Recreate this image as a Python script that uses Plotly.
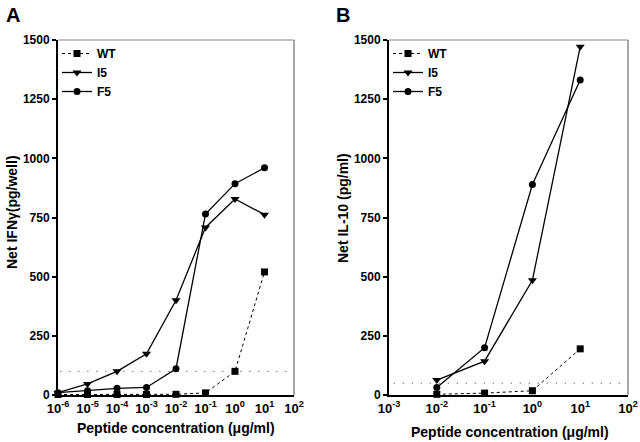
import plotly.graph_objects as go

# ---- data ----
conc_A = [1e-6, 1e-5, 1e-4, 1e-3, 1e-2, 1e-1, 1e0, 1e1]
wt_A = [2, 2, 2, 2, 3, 9, 100, 520]
i5_A = [10, 47, 100, 174, 400, 708, 828, 762]
f5_A = [10, 18, 28, 32, 111, 765, 893, 960]
thr_A = 100

conc_B = [1e-2, 1e-1, 1e0, 1e1]
wt_B = [3, 8, 18, 195]
i5_B = [63, 143, 485, 1472]
f5_B = [32, 200, 889, 1331]
thr_B = 50

ticks_A = [-6, -5, -4, -3, -2, -1, 0, 1, 2]
ticks_B = [-3, -2, -1, 0, 1, 2]
yticks = [0, 250, 500, 750, 1000, 1250, 1500]

FONT = "Liberation Sans"
W, H = 640, 442

fig = go.Figure()

def add_panel(xa, ya, conc, wt, i5, f5, legend):
    fig.add_trace(go.Scatter(x=conc, y=wt, name="WT", mode="lines+markers",
                             line=dict(color="black", width=1, dash="dot"),
                             marker=dict(symbol="square", size=7, color="black"),
                             xaxis=xa, yaxis=ya, legend=legend, cliponaxis=False))
    fig.add_trace(go.Scatter(x=conc, y=i5, name="I5", mode="lines+markers",
                             line=dict(color="black", width=1.3),
                             marker=dict(symbol="triangle-down", size=8, color="black"),
                             xaxis=xa, yaxis=ya, legend=legend, cliponaxis=False))
    fig.add_trace(go.Scatter(x=conc, y=f5, name="F5", mode="lines+markers",
                             line=dict(color="black", width=1.3),
                             marker=dict(symbol="circle", size=7, color="black"),
                             xaxis=xa, yaxis=ya, legend=legend, cliponaxis=False))

add_panel("x", "y", conc_A, wt_A, i5_A, f5_A, "legend")
add_panel("x2", "y2", conc_B, wt_B, i5_B, f5_B, "legend2")

def px_x(p):
    return p / W

def px_y(p):
    return 1 - p / H

xdomA = [px_x(58), px_x(294)]
xdomB = [px_x(389), px_x(628)]
ydom = [px_y(395), px_y(40)]

def xaxis(dom, tv, anchor):
    return dict(type="log", domain=dom, range=[tv[0], tv[-1]],
                tickvals=[10 ** t for t in tv],
                ticktext=["10<sup>%d</sup>" % t for t in tv],
                ticks="", showgrid=False, zeroline=False, automargin=False,
                showline=True, linecolor="black", linewidth=2,
                tickfont=dict(family=FONT, size=13, color="black", weight="bold"),
                anchor=anchor)

def yaxis(anchor):
    return dict(domain=ydom, range=[0, 1500], tickvals=yticks,
                ticks="outside", ticklen=4, tickwidth=1.5, tickcolor="black",
                showgrid=False, zeroline=False, showline=True, automargin=False,
                linecolor="black", linewidth=2,
                tickfont=dict(family=FONT, size=12, color="black", weight="bold"),
                anchor=anchor)

legend_common = dict(font=dict(family=FONT, size=12, color="black", weight="bold"),
                     bgcolor="rgba(0,0,0,0)", borderwidth=0,
                     xanchor="left", yanchor="top", tracegroupgap=0,
                     itemwidth=30)

fig.update_layout(
    template="none",
    width=W, height=H,
    margin=dict(l=0, r=0, t=0, b=0, autoexpand=False),
    paper_bgcolor="white", plot_bgcolor="white",
    font=dict(family=FONT, color="black"),
    xaxis=xaxis(xdomA, ticks_A, "y"),
    yaxis=yaxis("x"),
    xaxis2=xaxis(xdomB, ticks_B, "y2"),
    yaxis2=yaxis("x2"),
    legend=dict(x=px_x(57), y=px_y(39), **legend_common),
    legend2=dict(x=px_x(388), y=px_y(39), **legend_common),
    showlegend=True,
)

# threshold dotted lines
dots = dict(color="#333", width=1, dash="1px,8px")
fig.add_shape(type="line", xref="x domain", yref="y", x0=0.01, x1=1, y0=thr_A, y1=thr_A,
              line=dots)
fig.add_shape(type="line", xref="x2 domain", yref="y2", x0=0.02, x1=1, y0=thr_B, y1=thr_B,
              line=dots)
# grey top/right frame
for xr, yr in [("x domain", "y domain"), ("x2 domain", "y2 domain")]:
    fig.add_shape(type="line", xref=xr, yref=yr, x0=0, x1=1, y0=1, y1=1,
                  line=dict(color="#888", width=1))
    fig.add_shape(type="line", xref=xr, yref=yr, x0=1, x1=1, y0=0, y1=1,
                  line=dict(color="#555", width=1))

bold14 = dict(family=FONT, size=14, color="black")
ann = [
    dict(text="<b>A</b>", x=px_x(4), y=px_y(2), xanchor="left", yanchor="top",
         font=dict(family=FONT, size=20, color="black")),
    dict(text="<b>B</b>", x=px_x(334), y=px_y(2), xanchor="left", yanchor="top",
         font=dict(family=FONT, size=20, color="black")),
    dict(text="<b>Peptide concentration (\u03bcg/ml)</b>", x=px_x(176), y=px_y(428),
         xanchor="center", yanchor="middle", font=bold14),
    dict(text="<b>Peptide concentration (\u03bcg/ml)</b>", x=px_x(510), y=px_y(432),
         xanchor="center", yanchor="middle", font=bold14),
    dict(text="<b>Net IFN\u03b3(pg/well)</b>", x=px_x(12), y=px_y(212), textangle=-90,
         xanchor="center", yanchor="middle", font=bold14),
    dict(text="<b>Net IL-10 (pg/ml)</b>", x=px_x(343), y=px_y(208), textangle=-90,
         xanchor="center", yanchor="middle", font=bold14),
]
for a in ann:
    fig.add_annotation(xref="paper", yref="paper", showarrow=False, **a)

fig.write_html("out.html",
               config={"displayModeBar": False},
               post_script="document.body.style.margin='0';document.body.style.overflow='hidden';")
